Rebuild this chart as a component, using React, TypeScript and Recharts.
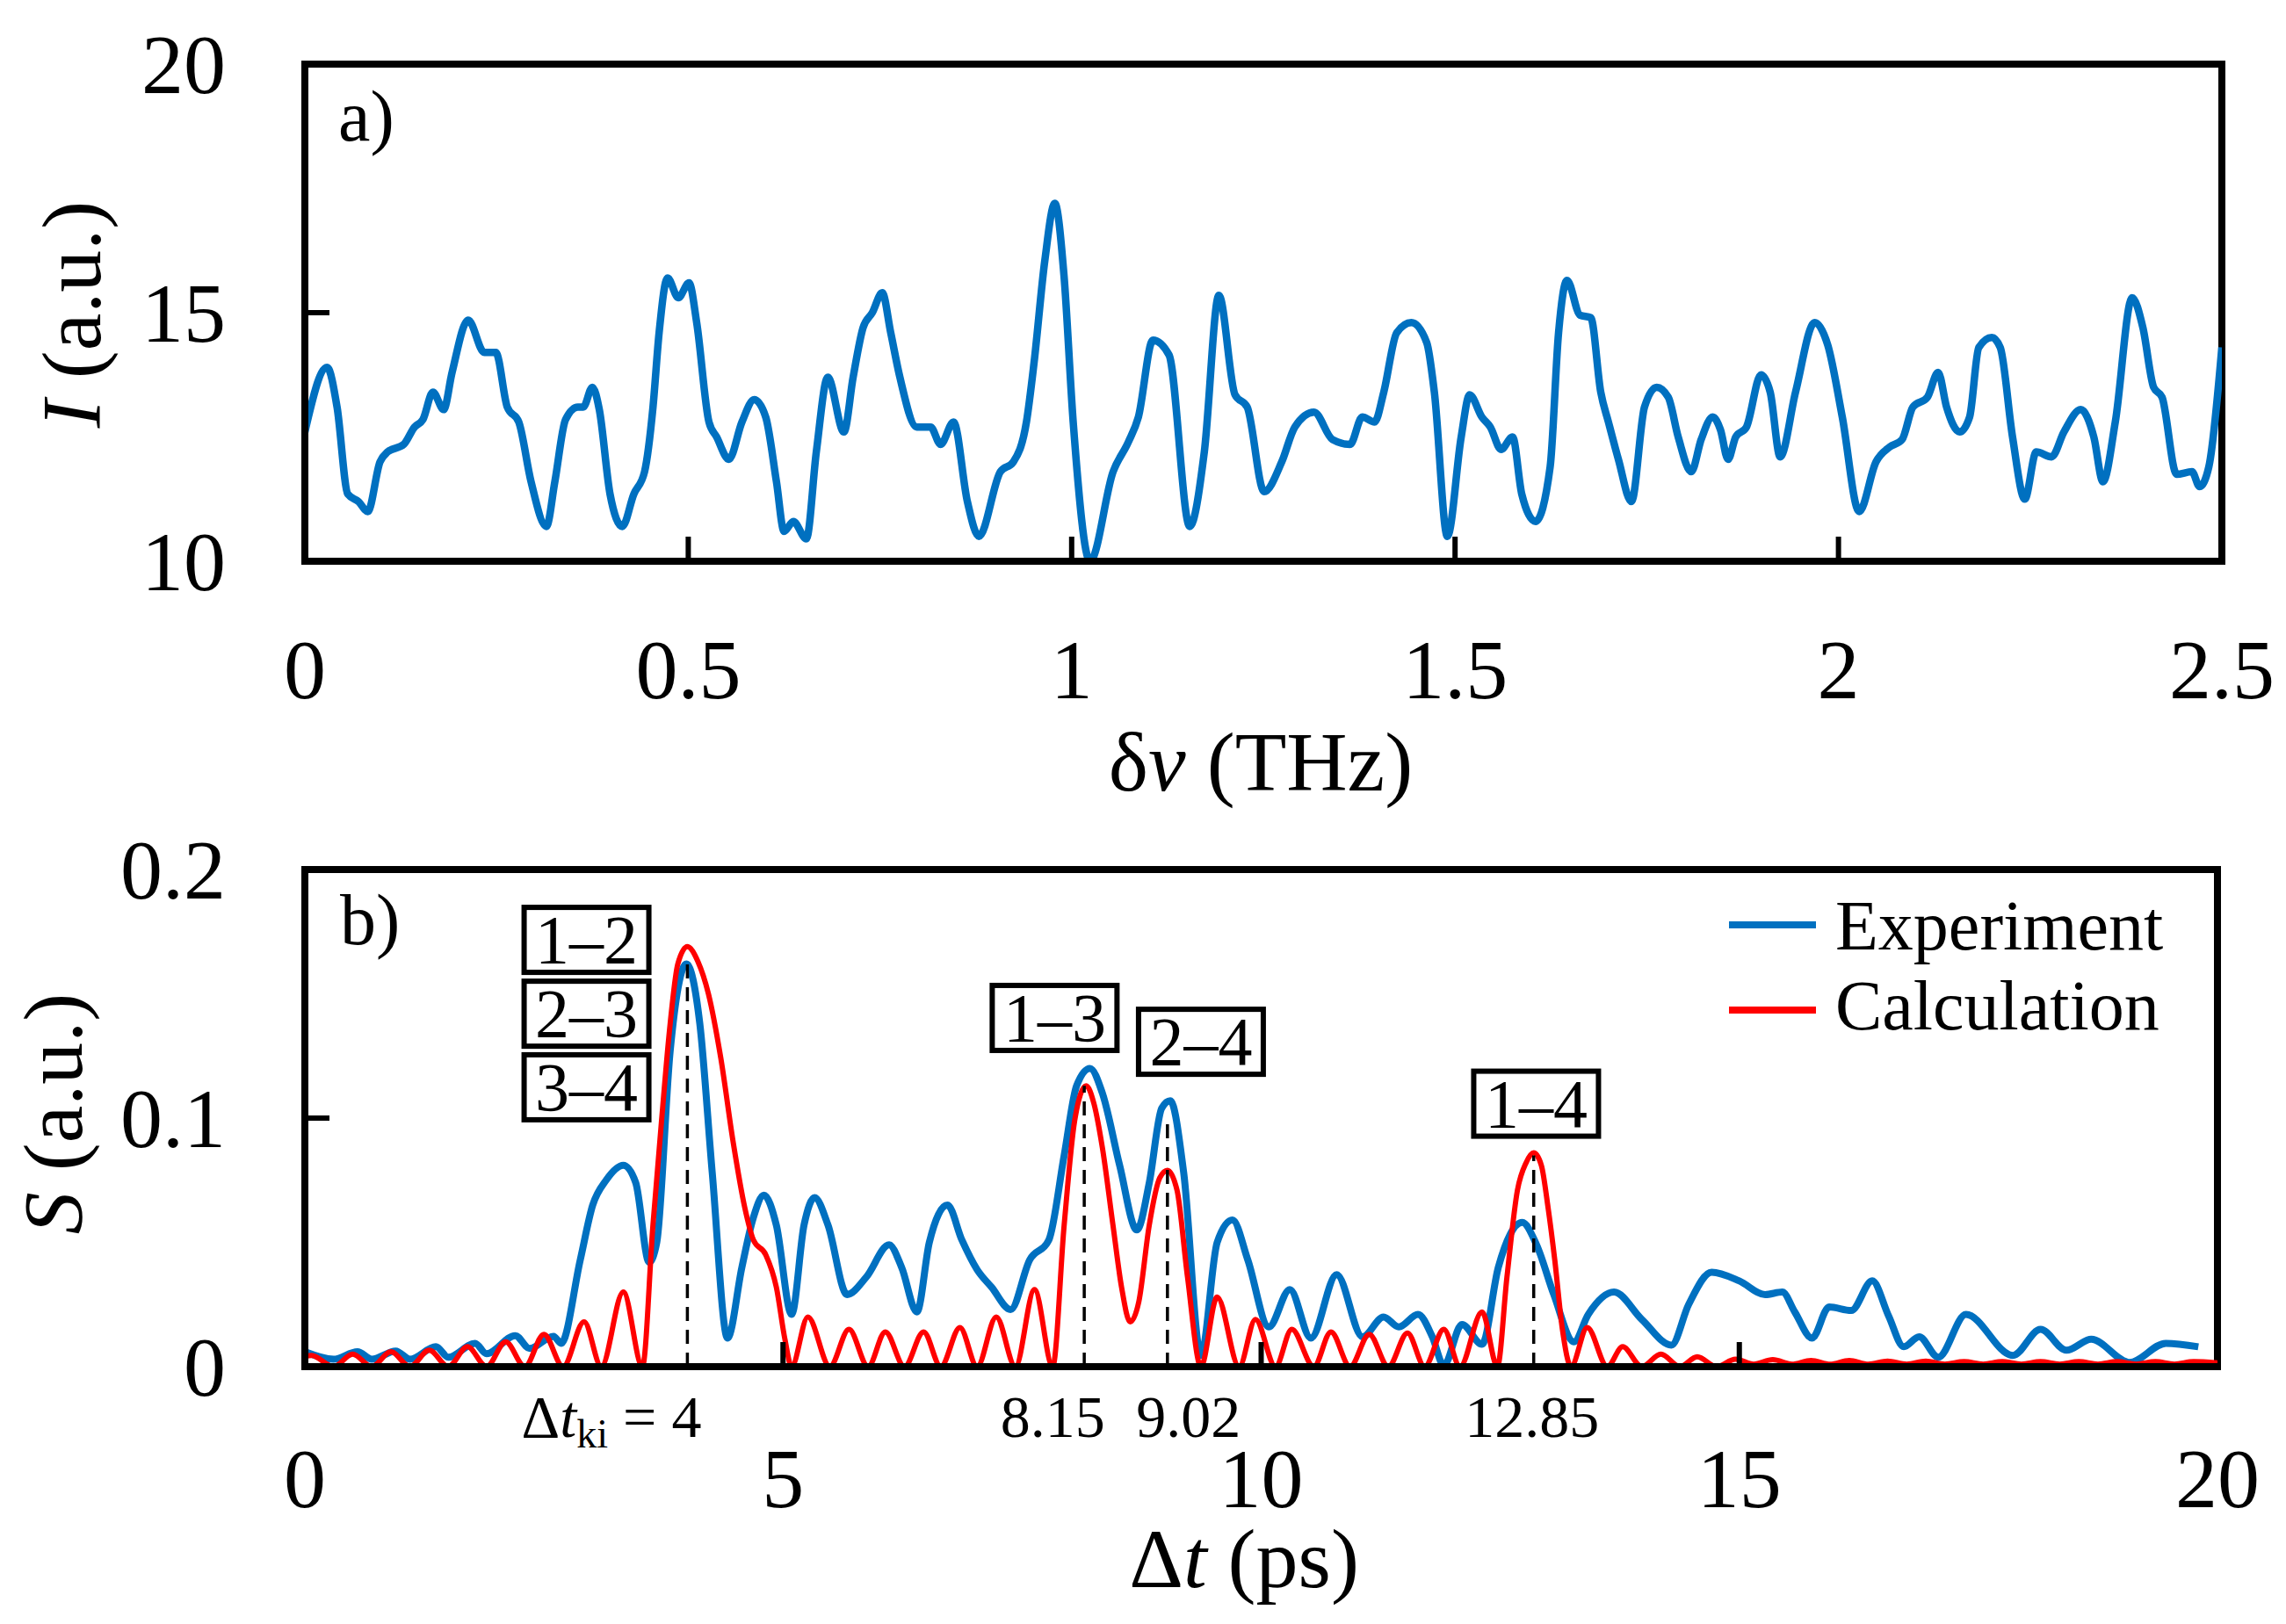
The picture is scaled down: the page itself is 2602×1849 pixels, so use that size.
import React from "react";
import { LineChart, Line, XAxis, YAxis, Legend, ReferenceLine, ReferenceDot, ReferenceArea } from "recharts";

const FONT = "'Liberation Serif', 'Times New Roman', serif";
const BLUE = "#0070C0";
const RED = "#FF0000";
const AXIS = { stroke: "#000", strokeWidth: 8, strokeLinecap: "square" as const };

// panel a) : spectrum
const freqTHz = [
  0, 0.029, 0.042, 0.056, 0.07, 0.082, 0.098, 0.108, 0.129, 0.143, 0.154, 0.167, 0.181, 0.192, 0.213, 0.234,
  0.249, 0.264, 0.279, 0.295, 0.315, 0.326, 0.34, 0.356, 0.363, 0.375, 0.384, 0.398, 0.414, 0.429, 0.443, 0.454,
  0.462, 0.473, 0.487, 0.501, 0.511, 0.527, 0.537, 0.553, 0.57, 0.586, 0.601, 0.615, 0.625, 0.637, 0.654, 0.667,
  0.682, 0.703, 0.715, 0.728, 0.74, 0.753, 0.764, 0.776, 0.798, 0.816, 0.829, 0.846, 0.864, 0.879, 0.907, 0.924,
  0.941, 0.951, 0.965, 0.978, 0.99, 1.002, 1.024, 1.054, 1.074, 1.087, 1.106, 1.127, 1.154, 1.173, 1.192, 1.213,
  1.229, 1.251, 1.274, 1.291, 1.316, 1.34, 1.363, 1.379, 1.395, 1.407, 1.424, 1.443, 1.463, 1.473, 1.49, 1.508,
  1.519, 1.535, 1.546, 1.56, 1.575, 1.587, 1.605, 1.624, 1.635, 1.646, 1.663, 1.677, 1.69, 1.7, 1.713, 1.73,
  1.747, 1.763, 1.778, 1.791, 1.808, 1.821, 1.836, 1.846, 1.856, 1.866, 1.88, 1.899, 1.911, 1.924, 1.944, 1.969,
  1.986, 2.005, 2.027, 2.049, 2.067, 2.083, 2.097, 2.116, 2.13, 2.141, 2.158, 2.171, 2.183, 2.2, 2.211, 2.227,
  2.243, 2.258, 2.278, 2.294, 2.316, 2.333, 2.345, 2.361, 2.383, 2.397, 2.411, 2.422, 2.441, 2.461, 2.471, 2.483,
  2.5,
];
const intensity = [
  12.6, 13.9, 13.1, 11.35, 11.2, 11.0, 12.0, 12.2, 12.35, 12.7, 12.85, 13.4, 13.05, 13.8, 14.85, 14.2,
  14.2, 13.1, 12.8, 11.6, 10.7, 11.6, 12.85, 13.1, 13.1, 13.5, 13.05, 11.35, 10.7, 11.35, 11.8, 13.1,
  14.6, 15.7, 15.3, 15.6, 14.8, 12.8, 12.5, 12.05, 12.8, 13.25, 12.9, 11.6, 10.6, 10.8, 10.45, 12.2,
  13.7, 12.6, 13.7, 14.7, 15.0, 15.4, 14.6, 13.7, 12.7, 12.7, 12.35, 12.8, 11.2, 10.5, 11.8, 12.0,
  12.8, 14.0, 16.05, 17.2, 15.75, 12.8, 10.0, 11.8, 12.4, 12.9, 14.45, 14.15, 10.7, 12.2, 15.35, 13.35,
  13.1, 11.4, 12.0, 12.7, 13.0, 12.45, 12.35, 12.9, 12.8, 13.4, 14.6, 14.8, 14.4, 13.4, 10.5, 12.5,
  13.35, 12.9, 12.7, 12.25, 12.5, 11.35, 10.8, 11.9, 14.6, 15.65, 14.95, 14.9, 13.4, 12.8, 12.05, 11.2,
  13.1, 13.5, 13.3, 12.5, 11.8, 12.45, 12.9, 12.65, 12.05, 12.5, 12.7, 13.75, 13.4, 12.1, 13.4, 14.8,
  14.35, 12.9, 11.0, 12.0, 12.3, 12.45, 13.1, 13.3, 13.8, 13.1, 12.6, 12.9, 14.3, 14.5, 14.3, 12.5,
  11.25, 12.2, 12.1, 12.6, 13.05, 12.5, 11.6, 12.8, 15.3, 14.7, 13.5, 13.3, 11.75, 11.8, 11.5, 11.9,
  14.3,
];
const freqTicks = [0, 0.5, 1, 1.5, 2, 2.5];
const intensityTicks = [10, 15, 20];

// panel b) : delay spectrum
const seriesNames = ["Experiment", "Calculation"];
const expTime = [
  0, 0.3, 0.55, 0.7, 0.95, 1.1, 1.37, 1.5, 1.78, 1.9, 2.2, 2.35, 2.6, 2.68, 2.88, 3.01,
  3.15, 3.33, 3.46, 3.6, 3.68, 3.82, 3.99, 4.13, 4.26, 4.42, 4.57, 4.69, 4.8, 4.93, 5.09, 5.22,
  5.33, 5.47, 5.67, 5.87, 6.11, 6.24, 6.4, 6.53, 6.72, 6.87, 7.03, 7.18, 7.38, 7.58, 7.78, 7.94,
  8.07, 8.21, 8.34, 8.52, 8.7, 8.83, 8.96, 9.05, 9.19, 9.37, 9.54, 9.7, 9.86, 10.08, 10.3, 10.52,
  10.79, 11.06, 11.28, 11.44, 11.64, 11.79, 11.91, 12.1, 12.31, 12.48, 12.73, 12.88, 13.06, 13.27, 13.42, 13.69,
  13.98, 14.29, 14.47, 14.71, 15.0, 15.27, 15.45, 15.58, 15.76, 15.94, 16.17, 16.39, 16.56, 16.72, 16.88, 17.08,
  17.37, 17.86, 18.15, 18.42, 18.68, 19.08, 19.46, 19.8,
];
const expSignal = [
  0.006, 0.003, 0.006, 0.003, 0.0063, 0.003, 0.008, 0.0038, 0.0094, 0.0052, 0.0125, 0.0073, 0.0122, 0.0094, 0.043, 0.065,
  0.075, 0.081, 0.074, 0.042, 0.05, 0.127, 0.162, 0.138, 0.078, 0.0115, 0.04, 0.06, 0.069, 0.057, 0.021, 0.057,
  0.068, 0.057, 0.029, 0.036, 0.049, 0.04, 0.022, 0.05, 0.065, 0.051, 0.039, 0.032, 0.023, 0.043, 0.051, 0.085,
  0.113, 0.12, 0.11, 0.081, 0.055, 0.074, 0.104, 0.107, 0.078, 0.0045, 0.05, 0.059, 0.043, 0.016, 0.031, 0.0115,
  0.037, 0.012, 0.02, 0.016, 0.021, 0.012, 0.0005, 0.017, 0.009, 0.04, 0.058, 0.049, 0.029, 0.01, 0.021, 0.03,
  0.019, 0.0087, 0.025, 0.038, 0.0345, 0.029, 0.03, 0.022, 0.0115, 0.024, 0.0226, 0.0345, 0.0205, 0.008, 0.012, 0.0038,
  0.021, 0.0045, 0.015, 0.0066, 0.011, 0.0017, 0.0094, 0.008,
];
const calcTime = [
  0, 0.07, 0.3, 0.5, 0.7, 0.9, 1.1, 1.3, 1.5, 1.7, 1.9, 2.1, 2.3, 2.5, 2.7, 2.92,
  3.1, 3.33, 3.53, 3.64, 3.73, 3.82, 3.9, 4.0, 4.11, 4.22, 4.35, 4.48, 4.6, 4.69, 4.82, 4.93,
  5.02, 5.09, 5.26, 5.49, 5.69, 5.89, 6.07, 6.27, 6.47, 6.65, 6.85, 7.03, 7.23, 7.43, 7.63, 7.82,
  7.94, 8.05, 8.17, 8.25, 8.34, 8.45, 8.54, 8.63, 8.72, 8.83, 8.94, 9.02, 9.12, 9.23, 9.37, 9.54,
  9.77, 9.94, 10.15, 10.32, 10.55, 10.73, 10.93, 11.13, 11.33, 11.53, 11.71, 11.91, 12.08, 12.31, 12.47, 12.57,
  12.68, 12.77, 12.85, 12.93, 13.0, 13.07, 13.15, 13.24, 13.41, 13.62, 13.78, 13.98, 14.18, 14.38, 14.56, 14.76,
  14.96, 15.15, 15.35, 15.55, 15.75, 15.95, 16.15, 16.35, 16.55, 16.75, 16.95, 17.15, 17.35, 17.55, 17.75, 17.95,
  18.15, 18.35, 18.55, 18.75, 18.95, 19.15, 19.35, 19.55, 19.75, 20.0,
];
const calcSignal = [
  0.004, 0.0045, 0, 0.005, 0, 0.006, 0, 0.0066, 0, 0.008, 0, 0.01, 0, 0.013, 0, 0.018,
  0, 0.03, 0, 0.057, 0.099, 0.138, 0.162, 0.169, 0.163, 0.15, 0.124, 0.09, 0.064, 0.051, 0.045, 0.032,
  0.011, 0, 0.02, 0, 0.015, 0, 0.014, 0, 0.014, 0, 0.0157, 0, 0.02, 0, 0.031, 0,
  0.057, 0.099, 0.113, 0.106, 0.088, 0.057, 0.032, 0.018, 0.026, 0.057, 0.076, 0.079, 0.071, 0.036, 0, 0.028,
  0, 0.019, 0, 0.015, 0, 0.014, 0, 0.013, 0, 0.0135, 0, 0.015, 0, 0.022, 0, 0.036,
  0.071, 0.082, 0.086, 0.081, 0.064, 0.043, 0.015, 0, 0.0157, 0, 0.008, 0, 0.005, 0, 0.004, 0,
  0.003, 0.001, 0.0028, 0.001, 0.0025, 0.001, 0.0025, 0.001, 0.0022, 0.001, 0.0022, 0.001, 0.002, 0.001, 0.002, 0.001,
  0.002, 0.001, 0.002, 0.001, 0.002, 0.001, 0.002, 0.001, 0.002, 0.0015,
];
const delayTicks = [0, 5, 10, 15, 20];
const signalTicks = [0, 0.1, 0.2];

// boxed pair annotations
const pairText = ["1–2", "2–3", "3–4", "1–3", "2–4", "1–4"];
const pairTime = [2.945, 2.945, 2.945, 7.84, 9.37, 12.875];
const pairSignal = [0.1717, 0.142, 0.1124, 0.1403, 0.1307, 0.1058];

// dashed peak markers
const peakTime = [4, 8.15, 9.02, 12.85];
const peakTop = [0.163, 0.113, 0.1, 0.085];
const peakText = ["4", "8.15", "9.02", "12.85"];
const peakDx = [16, -36, 24, -2];

const spectrumData = freqTHz.map((f, i) => ({ f, I: intensity[i] }));
const expData = expTime.map((t, i) => ({ t, s: expSignal[i] }));
const calcData = calcTime.map((t, i) => ({ t, s: calcSignal[i] }));

const fmt = (v: number) => String(v);

const makeXTick = (last: number, labelDy: number) => (p: any) => {
  const v = p.payload.value;
  const inner = v > 0 && v < last;
  return (
    <g>
      {inner && <line x1={p.x} x2={p.x} y1={p.y} y2={p.y - 28} stroke="#000" strokeWidth={6} />}
      <text x={p.x} y={p.y + labelDy} textAnchor="middle" fontSize={96} fontFamily={FONT} fill="#000">
        {fmt(v)}
      </text>
    </g>
  );
};

const makeYTick = (first: number, last: number) => (p: any) => {
  const v = p.payload.value;
  const inner = v > first && v < last;
  return (
    <g>
      {inner && <line x1={p.x} x2={p.x + 28} y1={p.y} y2={p.y} stroke="#000" strokeWidth={6} />}
      <text x={p.x - 90} y={p.y + 33} textAnchor="end" fontSize={96} fontFamily={FONT} fill="#000">
        {fmt(v)}
      </text>
    </g>
  );
};

const yTitle = (cx: number, cy: number, sym: string) => () => (
  <text
    x={cx}
    y={cy}
    transform={`rotate(-90 ${cx} ${cy})`}
    textAnchor="middle"
    dominantBaseline="central"
    fontSize={96}
    fontFamily={FONT}
    fill="#000"
  >
    <tspan fontStyle="italic">{sym}</tspan> (a.u.)
  </text>
);

const panelTag = (x: number, y: number, tag: string) => () => (
  <text x={x} y={y} fontSize={82} fontFamily={FONT} fill="#000">
    {tag}
  </text>
);

const PairBox = ({ cx, cy, text }: any) => (
  <g>
    <rect x={cx - 71} y={cy - 37} width={142} height={74} fill="#fff" stroke="#000" strokeWidth={6} />
    <text x={cx} y={cy + 26} textAnchor="middle" fontSize={78} fontFamily={FONT} fill="#000">
      {text}
    </text>
  </g>
);

const PeakLabel = ({ cx, cy, i }: any) => {
  const x = cx + peakDx[i];
  const y = cy + 80;
  if (i === 0) {
    return (
      <text x={x} y={y} textAnchor="end" fontSize={68} fontFamily={FONT} fill="#000">
        Δ<tspan fontStyle="italic">t</tspan>
        <tspan fontSize={46} dy={12}>ki</tspan>
        <tspan dy={-12}> = {peakText[i]}</tspan>
      </text>
    );
  }
  return (
    <text x={x} y={y} textAnchor="middle" fontSize={68} fontFamily={FONT} fill="#000">
      {peakText[i]}
    </text>
  );
};

const renderLegend = (props: any) => {
  const items = [...(props.payload || [])].sort(
    (a: any, b: any) => seriesNames.indexOf(a.value) - seriesNames.indexOf(b.value)
  );
  return (
    <svg width={620} height={200}>
      {items.map((it: any, i: number) => (
        <g key={it.value}>
          <line x1={18} x2={117} y1={53 + 97 * i} y2={53 + 97 * i} stroke={it.color} strokeWidth={8} />
          <text x={139} y={81 + 91 * i} fontSize={80} fontFamily={FONT} fill="#000">
            {it.value}
          </text>
        </g>
      ))}
    </svg>
  );
};

const SpectrumPanel = () => (
  <LineChart width={2602} height={940} data={spectrumData} margin={{ top: 73, right: 73, left: 0, bottom: 0 }}>
    <XAxis
      dataKey="f"
      type="number"
      domain={[0, 2.5]}
      ticks={freqTicks}
      interval={0}
      allowDataOverflow
      height={301}
      tickLine={false}
      tickSize={0}
      tickMargin={0}
      axisLine={AXIS}
      tick={makeXTick(2.5, 156)}
      label={() => (
        <text x={1435} y={900} textAnchor="middle" fontSize={96} fontFamily={FONT} fill="#000">
          δ<tspan fontStyle="italic">ν</tspan> (THz)
        </text>
      )}
    />
    <YAxis
      type="number"
      domain={[10, 20]}
      ticks={intensityTicks}
      interval={0}
      allowDataOverflow
      width={347}
      tickLine={false}
      tickSize={0}
      tickMargin={0}
      axisLine={AXIS}
      tick={makeYTick(10, 20)}
      label={yTitle(81, 358, "I")}
    />
    <ReferenceArea
      x1={0}
      x2={2.5}
      y1={10}
      y2={20}
      fill="none"
      fillOpacity={0}
      stroke="#000"
      strokeWidth={8}
      ifOverflow="visible"
      label={panelTag(385, 160, "a)")}
    />
    <Line type="monotone" dataKey="I" stroke={BLUE} strokeWidth={8.5} dot={false} isAnimationActive={false} />
  </LineChart>
);

const DelayPanel = () => (
  <LineChart width={2602} height={909} margin={{ top: 50, right: 78, left: 0, bottom: 0 }}>
    <XAxis
      dataKey="t"
      type="number"
      domain={[0, 20]}
      ticks={delayTicks}
      interval={0}
      allowDataOverflow
      height={293}
      tickLine={false}
      tickSize={0}
      tickMargin={0}
      axisLine={AXIS}
      tick={makeXTick(20, 160)}
      label={() => (
        <text x={1416} y={867} textAnchor="middle" fontSize={96} fontFamily={FONT} fill="#000">
          Δ<tspan fontStyle="italic">t</tspan> (ps)
        </text>
      )}
    />
    <YAxis
      type="number"
      domain={[0, 0.2]}
      ticks={signalTicks}
      interval={0}
      allowDataOverflow
      width={347}
      tickLine={false}
      tickSize={0}
      tickMargin={0}
      axisLine={AXIS}
      tick={makeYTick(0, 0.2)}
      label={yTitle(60, 328, "S")}
    />
    <ReferenceArea
      x1={0}
      x2={20}
      y1={0}
      y2={0.2}
      fill="none"
      fillOpacity={0}
      stroke="#000"
      strokeWidth={8}
      ifOverflow="visible"
      label={panelTag(387, 135, "b)")}
    />
    <Legend
      layout="horizontal"
      verticalAlign="middle"
      align="center"
      wrapperStyle={{ position: "absolute", left: 1950, top: 60, width: 620, height: 200 }}
      content={renderLegend}
    />
    <Line
      data={expData}
      name={seriesNames[0]}
      type="monotone"
      dataKey="s"
      stroke={BLUE}
      strokeWidth={8}
      dot={false}
      isAnimationActive={false}
    />
    <Line
      data={calcData}
      name={seriesNames[1]}
      type="monotone"
      dataKey="s"
      stroke={RED}
      strokeWidth={6}
      dot={false}
      isAnimationActive={false}
    />
    {peakTime.map((t, i) => (
      <ReferenceLine
        key={`pk-${i}`}
        segment={[
          { x: t, y: 0 },
          { x: t, y: peakTop[i] },
        ]}
        stroke="#000"
        strokeWidth={3.5}
        strokeDasharray="16 10"
        ifOverflow="visible"
      />
    ))}
    {peakTime.map((t, i) => (
      <ReferenceDot
        key={`pl-${i}`}
        x={t}
        y={0}
        r={0}
        ifOverflow="visible"
        shape={(p: any) => <PeakLabel cx={p.cx} cy={p.cy} i={i} />}
      />
    ))}
    {pairText.map((txt, i) => (
      <ReferenceDot
        key={`pb-${i}`}
        x={pairTime[i]}
        y={pairSignal[i]}
        r={0}
        ifOverflow="visible"
        shape={(p: any) => <PairBox cx={p.cx} cy={p.cy} text={txt} />}
      />
    ))}
  </LineChart>
);

export default function App() {
  return (
    <div style={{ position: "absolute", left: 0, top: 0, width: 2602, height: 1849, background: "#fff" }}>
      <div style={{ position: "absolute", left: 0, top: 0 }}>
        <SpectrumPanel />
      </div>
      <div style={{ position: "absolute", left: 0, top: 940 }}>
        <DelayPanel />
      </div>
    </div>
  );
}
